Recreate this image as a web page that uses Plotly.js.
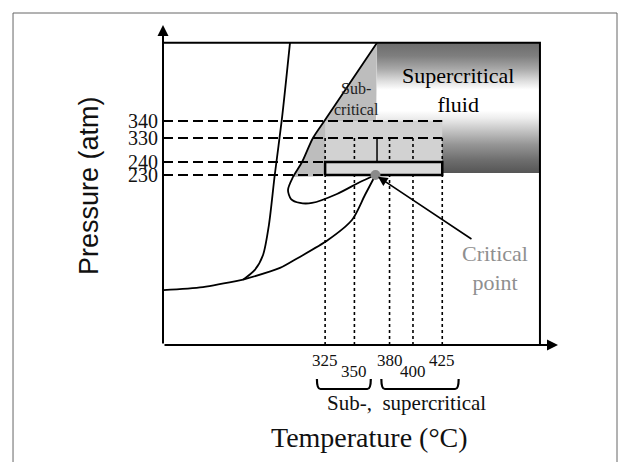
<!DOCTYPE html>
<html>
<head>
<meta charset="utf-8">
<script src="https://cdn.plot.ly/plotly-3.0.1.min.js"></script>
<style>html,body{margin:0;padding:0;background:#fff;}#chart{width:620px;height:462px;}</style>
</head>
<body>
<div id="chart"></div>
<script>
// ---------- data (temperatures in °C, pressures in atm) ----------
const T_TICKS = [325, 350, 380, 400, 425];
const T_LABELS = ['325', '350', '380', '400', '425'];
const P_TICKS = [230, 240, 330, 340];
const P_LABELS = ['230', '240', '330', '340'];
const SUB_RANGE = [325, 350];
const SUPER_RANGE = [380, 425];

const critT = [368];
const critP = [230];

// phase boundaries (schematic)
const meltT = [255, 265, 272, 277, 282, 288, 295];
const meltP = [149.5, 157, 168.5, 191.5, 230, 340.6, 386];
const sublT = [187, 220.7, 255];
const sublP = [141.5, 143.8, 149.5];
const vapT = [255, 286.5, 301.8, 327.4, 347.9, 359, 368];
const vapP = [149.5, 158.5, 166.2, 180, 195.4, 214.6, 230];
const loopT = [369.3, 324.9, 314.6, 305.3, 297.6, 293.3, 295.9, 303.5, 313.8, 335.1, 354.8, 368];
const loopP = [386, 340.6, 330, 240, 228.5, 218.5, 211.5, 208.5, 208.5, 215.4, 224.6, 230];

// sub-critical shaded region
const subRegT = [369.3, 324.9, 314.6, 305.3, 297.6, 368, 369.3];
const subRegP = [386, 340.6, 330, 240, 228.5, 230, 386];

// supercritical fluid region
const fluidT = [369.3, 508.4];
const fluidP = [231.5, 386];

// experimental windows
const bandT = [325, 425];
const bandP = [230, 340];
const boxT = [325, 425];
const boxP = [230, 240];

const arrowTail = {T: 451.2, P: 180};
const T_AXIS = [186.6, 523.8];

// ---------- schematic (broken) pressure scale ----------
function pY(p) {
  if (p <= 230) return 170 - (230 - p) * 1.3;
  if (p <= 240) return 170 + (p - 230) * 1.3;
  if (p <= 330) return 183 + (p - 240) * 24 / 90;
  return 207 + (p - 330) * 1.7;
}
const Y = a => a.map(v => v == null ? null : pY(v));
function rectXY(t, p) {
  return {x: [t[0], t[1], t[1], t[0], t[0]], y: Y([p[0], p[0], p[1], p[1], p[0]])};
}

const SERIF = 'Liberation Serif, Times New Roman, serif';
const SANS = 'Liberation Sans, Arial, sans-serif';
const traces = [];

// sub-critical region
traces.push({x: subRegT, y: Y(subRegP), mode: 'lines', fill: 'toself', fillcolor: '#bdbdbd',
  line: {width: 0}, hoverinfo: 'skip'});

// supercritical fluid with gradient
const fr = rectXY(fluidT, fluidP);
traces.push({x: fr.x, y: fr.y, mode: 'lines', fill: 'toself', line: {width: 0},
  fillgradient: {type: 'vertical', colorscale: [
    [0, '#555555'], [0.1, '#6e6e6e'], [0.22, '#969696'], [0.33, '#c6c6c6'], [0.42, '#ededed'],
    [0.48, '#ffffff'], [0.64, '#ffffff'], [0.71, '#dcdcdc'], [0.8, '#a8a8a8'], [0.9, '#7e7e7e'], [1, '#6c6c6c']]},
  hoverinfo: 'skip'});

// light band 230-340 atm
const br = rectXY(bandT, bandP);
traces.push({x: br.x, y: br.y, mode: 'lines', fill: 'toself', fillcolor: '#d2d2d2', line: {width: 0}, hoverinfo: 'skip'});

// dotted verticals at temperatures
const dx = [], dy = [];
T_TICKS.forEach(t => { dx.push(t, t, null); dy.push(pY(330), 0, null); });
traces.push({x: dx, y: dy, mode: 'lines', line: {color: '#000', width: 1.6, dash: 'dot'}, hoverinfo: 'skip'});

// dashed horizontals at pressures
const hx = [], hy = [];
P_TICKS.forEach(p => { hx.push(T_AXIS[0], bandT[1], null); hy.push(pY(p), pY(p), null); });
traces.push({x: hx, y: hy, mode: 'lines', line: {color: '#000', width: 2, dash: '10px,5px'}, hoverinfo: 'skip'});

// thick box 230-240 atm
const bx = rectXY(boxT, boxP);
traces.push({x: bx.x, y: bx.y, mode: 'lines', fill: 'toself', fillcolor: '#dadada',
  line: {color: '#000', width: 2.5}, hoverinfo: 'skip'});

// fluid-region left edge inside band
traces.push({x: [fluidT[0], fluidT[0]], y: Y([330, 240]), mode: 'lines', line: {color: '#000', width: 1.5}, hoverinfo: 'skip'});

// top line and right edge
traces.push({x: [T_AXIS[0], fluidT[1], fluidT[1]], y: [pY(fluidP[1]), pY(fluidP[1]), 0], mode: 'lines',
  line: {color: '#000', width: 2}, hoverinfo: 'skip'});

// phase boundaries
[[meltT, meltP], [sublT, sublP], [vapT, vapP], [loopT, loopP]].forEach(([t, p]) => {
  traces.push({x: t, y: Y(p), mode: 'lines', line: {color: '#000', width: 1.8, shape: 'spline', smoothing: 0.8}, hoverinfo: 'skip'});
});

// critical point
traces.push({x: critT, y: Y(critP), mode: 'markers', marker: {size: 10, color: '#8a8a8a'}, hoverinfo: 'skip'});

// ---------- annotations ----------
const ann = [];
// axes arrows
ann.push({x: T_AXIS[0], y: 320, ax: T_AXIS[0], ay: 0, xref: 'x', yref: 'y', axref: 'x', ayref: 'y',
  text: '', showarrow: true, arrowhead: 2, arrowsize: 1.1, arrowwidth: 2, arrowcolor: '#000'});
ann.push({x: T_AXIS[1], y: 0, ax: T_AXIS[0], ay: 0, xref: 'x', yref: 'y', axref: 'x', ayref: 'y',
  text: '', showarrow: true, arrowhead: 2, arrowsize: 1.1, arrowwidth: 2, arrowcolor: '#000'});
// critical point arrow
ann.push({x: critT[0], y: pY(critP[0]), ax: arrowTail.T, ay: pY(arrowTail.P), xref: 'x', yref: 'y', axref: 'x', ayref: 'y',
  text: '', showarrow: true, arrowhead: 2, arrowsize: 1.2, arrowwidth: 1.6, arrowcolor: '#000', standoff: 3});
// staggered temperature tick labels
T_TICKS.forEach((t, i) => {
  ann.push({x: t, y: 0, xref: 'x', yref: 'paper', text: T_LABELS[i], showarrow: false,
    xanchor: 'center', yanchor: 'middle', yshift: i % 2 === 0 ? -15 : -26, font: {family: SERIF, size: 17, color: '#111'}});
});
// texts
const C = {xanchor: 'center', yanchor: 'middle', showarrow: false};
ann.push(Object.assign({x: 351.8, y: pY(353.2), xref: 'x', yref: 'y', text: 'Sub-<br>critical',
  font: {family: SERIF, size: 16, color: '#222'}}, C));
ann.push(Object.assign({x: 438.4, y: pY(358.5), xref: 'x', yref: 'y', text: 'Supercritical<br>fluid',
  font: {family: SERIF, size: 22, color: '#000'}}, C));
ann.push(Object.assign({x: 470, y: pY(158.1), xref: 'x', yref: 'y', text: 'Critical<br>point',
  font: {family: SERIF, size: 22, color: '#8f8f8f'}}, C));
ann.push(Object.assign({x: 0.6177, y: -0.181, xref: 'paper', yref: 'paper', text: 'Sub-,&nbsp; supercritical',
  font: {family: SERIF, size: 21, color: '#111'}}, C));
ann.push(Object.assign({x: 0.524, y: -0.2875, xref: 'paper', yref: 'paper', text: 'Temperature (°C)',
  font: {family: SERIF, size: 28, color: '#111'}}, C));
ann.push(Object.assign({x: -0.1873, y: 0.497, xref: 'paper', yref: 'paper', text: 'Pressure (atm)',
  textangle: -90, font: {family: SANS, size: 27, color: '#111'}}, C));

// braces under the temperature groups
function brace(t0, t1) {
  const x0 = t0 - 7, x1 = t1 + 14, yt = -0.106, yb = -0.1375, r = 3;
  return {type: 'path', xref: 'x', yref: 'paper',
    path: `M ${x0} ${yt} Q ${x0} ${yb} ${x0 + r} ${yb} L ${x1 - r} ${yb} Q ${x1} ${yb} ${x1} ${yt}`,
    line: {color: '#000', width: 2.2}};
}
const shapes = [
  brace(SUB_RANGE[0], SUB_RANGE[1]),
  brace(SUPER_RANGE[0], SUPER_RANGE[1]),
  {type: 'rect', xref: 'paper', yref: 'paper', x0: -0.3797, x1: 1.1494, y0: -0.42, y1: 1.0375,
    line: {color: '#666', width: 1}, fillcolor: 'rgba(0,0,0,0)'}
];

const layout = {
  width: 620, height: 462,
  margin: {l: 163, r: 62, t: 25, b: 117},
  paper_bgcolor: '#fff', plot_bgcolor: 'rgba(0,0,0,0)',
  showlegend: false, hovermode: false,
  xaxis: {range: T_AXIS, showgrid: false, zeroline: false, showline: false, showticklabels: false, ticks: '', fixedrange: true},
  yaxis: {range: [0, 320], showgrid: false, zeroline: false, showline: false,
    tickmode: 'array', tickvals: P_TICKS.map(pY), ticktext: P_LABELS,
    ticks: 'inside', ticklen: 7, tickwidth: 2, tickcolor: '#000', ticklabelstandoff: 4,
    tickfont: {family: SERIF, size: 20, color: '#111'}, fixedrange: true},
  annotations: ann,
  shapes: shapes
};

Plotly.newPlot('chart', traces, layout, {staticPlot: true, displayModeBar: false});
</script>
</body>
</html>
